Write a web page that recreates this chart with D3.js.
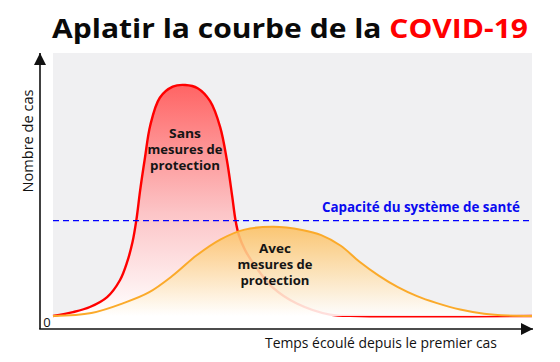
<!DOCTYPE html>
<html><head><meta charset="utf-8">
<script src="https://cdn.jsdelivr.net/npm/d3@7"></script>
<style>body{margin:0;background:#fff}svg{display:block}</style>
</head><body><svg id="c" width="560" height="362"></svg>
<script>
// time (0-100) vs cases (0-100, peak of unmitigated curve = 100)
const redT = [0, 4.2, 7.7, 11.3, 14.0, 15.5, 16.6, 17.4, 18.2, 19.2, 20.3, 22.3, 25.0, 27.6, 30.2, 32.8, 34.9, 36.3, 37.4, 38.1, 38.8, 40.1, 42.6, 45.9, 50.9, 57.8, 64, 100];
const redV = [0, 1.7, 3.9, 8.2, 15.6, 23.5, 32.0, 41.5, 54.5, 68.5, 82.5, 94.5, 99.3, 100, 98.6, 93.0, 81.8, 67.5, 52.0, 41.5, 35.0, 28.5, 20.5, 12.3, 5.4, 0.6, 0, 0];
const orangeT = [0, 8, 15, 20, 25, 30, 35, 40, 46, 52, 56, 60, 64, 68, 72, 76, 80, 85, 90, 95, 100];
const orangeV = [0, 1.3, 5.8, 10.2, 17.5, 26.3, 33.2, 37.4, 38.6, 37.2, 35.0, 30.5, 23.5, 17.5, 12.5, 8.6, 5.7, 2.8, 1.0, 0.2, 0];
const capacity = 41.3;
const title = ["Aplatir la courbe de la ", "COVID-19"];
const labelRed = ["Sans", "mesures de", "protection"];
const labelOrange = ["Avec", "mesures de", "protection"];
const capacityLabel = "Capacité du système de santé";
const yLabel = "Nombre de cas";
const xLabel = "Temps écoulé depuis le premier cas";
const zeroLabel = "0";

const svg = d3.select("#c");
const FONT = "'Open Sans', sans-serif";
const x = d3.scaleLinear().domain([0, 100]).range([53, 532]);
const y = d3.scaleLinear().domain([0, 100]).range([316, 85]);

const defs = svg.append("defs");
const gr = defs.append("linearGradient").attr("id", "gRed").attr("gradientUnits", "userSpaceOnUse")
  .attr("x1", 0).attr("x2", 0).attr("y1", y(100)).attr("y2", y(0));
gr.append("stop").attr("offset", 0).attr("stop-color", "#ff6464");
gr.append("stop").attr("offset", 0.55).attr("stop-color", "#fcc4c6");
gr.append("stop").attr("offset", 1).attr("stop-color", "#ffffff");
const go = defs.append("linearGradient").attr("id", "gOr").attr("gradientUnits", "userSpaceOnUse")
  .attr("x1", 0).attr("x2", 0).attr("y1", y(38.5)).attr("y2", y(0));
go.append("stop").attr("offset", 0).attr("stop-color", "#fcc062");
go.append("stop").attr("offset", 0.55).attr("stop-color", "#fde3b8");
go.append("stop").attr("offset", 1).attr("stop-color", "#ffffff");
defs.append("marker").attr("id", "arr").attr("viewBox", "0 0 10 10").attr("refX", 10).attr("refY", 5)
  .attr("markerWidth", 12).attr("markerHeight", 12).attr("markerUnits", "userSpaceOnUse").attr("orient", "auto")
  .append("path").attr("d", "M0,0L10,5L0,10z").attr("fill", "#111");

// background
svg.append("rect").attr("x", x(0)).attr("y", 53).attr("width", x(100) - x(0)).attr("height", y(0) - 53).attr("fill", "#f0f0f2");

const red = redT.map((t, i) => [t, redV[i]]);
const orange = orangeT.map((t, i) => [t, orangeV[i]]);
const curve = d3.curveCatmullRom.alpha(0.5);
const area = d3.area().x(d => x(d[0])).y0(y(0)).y1(d => y(d[1])).curve(curve);
const line = d3.line().x(d => x(d[0])).y(d => y(d[1])).curve(curve);

svg.append("path").attr("d", area(red)).attr("fill", "url(#gRed)");
svg.append("path").attr("d", line(red)).attr("fill", "none").attr("stroke", "#ff0000").attr("stroke-width", 2.4);
svg.append("path").attr("d", area(orange)).attr("fill", "url(#gOr)").attr("fill-opacity", 0.88);
svg.append("path").attr("d", line(orange)).attr("fill", "none").attr("stroke", "#fbaa2a").attr("stroke-width", 2);

// capacity
svg.append("line").attr("x1", x(0)).attr("x2", x(100)).attr("y1", y(capacity)).attr("y2", y(capacity))
  .attr("stroke", "#0000ff").attr("stroke-width", 1.4).attr("stroke-dasharray", "6,4");

function fit(sel, w) {
  const n = sel.node(); const cur = n.getComputedTextLength();
  const fs = parseFloat(sel.attr("font-size"));
  sel.attr("font-size", fs * w / cur);
  return fs * w / cur;
}
const cap = svg.append("text").attr("x", 520).attr("y", 212).attr("text-anchor", "end")
  .attr("font-family", FONT).attr("font-weight", 700).attr("font-size", 13).attr("fill", "#0a0af0").text(capacityLabel);
fit(cap, 198);

// axes
svg.append("line").attr("x1", 40).attr("x2", 40).attr("y1", 329).attr("y2", 53)
  .attr("stroke", "#111").attr("stroke-width", 1.6).attr("marker-end", "url(#arr)");
svg.append("line").attr("x1", 39.2).attr("x2", 533).attr("y1", 329).attr("y2", 329)
  .attr("stroke", "#111").attr("stroke-width", 1.6).attr("marker-end", "url(#arr)");

svg.append("text").attr("x", 47).attr("y", 327).attr("text-anchor", "middle").attr("font-family", FONT)
  .attr("font-size", 13).attr("fill", "#111").text(zeroLabel);
const yl = svg.append("text").attr("transform", "translate(33,141) rotate(-90)").attr("text-anchor", "middle")
  .attr("font-family", FONT).attr("font-size", 13).attr("fill", "#111").text(yLabel);
fit(yl, 103);
const xl = svg.append("text").attr("x", 265).attr("y", 348).attr("font-family", FONT)
  .attr("font-size", 13).attr("fill", "#111").text(xLabel);
fit(xl, 232);

// curve labels
function lbl(lines, cx, ys, ws) {
  lines.forEach((s, i) => svg.append("text").attr("x", cx).attr("y", ys[i]).attr("text-anchor", "middle")
      .attr("font-family", FONT).attr("font-weight", 700).attr("font-size", 11.6).attr("fill", "#151515")
      .attr("textLength", ws[i]).attr("lengthAdjust", "spacingAndGlyphs").text(s));
}
lbl(labelRed, 185, [138, 154, 170], [32, 75, 70]);
lbl(labelOrange, 275, [253, 269, 285], [32, 75, 69]);

// title
const tt = svg.append("text").attr("x", 52).attr("y", 38).attr("font-family", FONT).attr("font-weight", 700)
  .attr("font-size", 27.5).attr("textLength", 476).attr("lengthAdjust", "spacingAndGlyphs");
tt.append("tspan").attr("fill", "#0a0a0a").text(title[0]);
tt.append("tspan").attr("fill", "#ff0000").text(title[1]);
</script></body></html>
